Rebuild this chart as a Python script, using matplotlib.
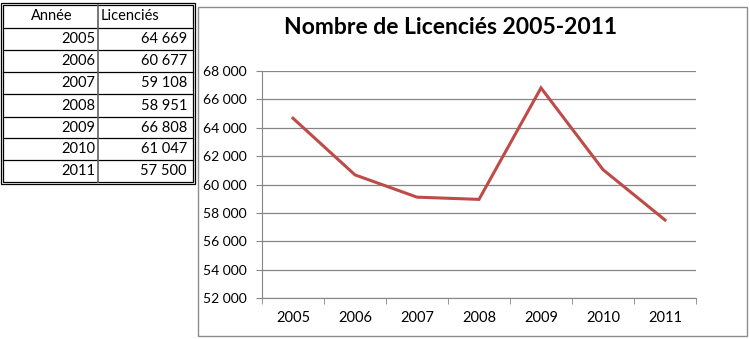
import numpy as np
import matplotlib.pyplot as plt
from matplotlib.ticker import FuncFormatter, MultipleLocator
from matplotlib.patches import Rectangle
from matplotlib.lines import Line2D

# données
annees = ["2005", "2006", "2007", "2008", "2009", "2010", "2011"]
licencies = [64669, 60677, 59108, 58951, 66808, 61047, 57500]
entetes = ["Année", "Licenciés"]

plt.rcParams["font.family"] = ["Lato", "DejaVu Sans"]

W, H = 750, 339
fig = plt.figure(figsize=(W / 100, H / 100), dpi=100)


def fx(px):
    return px / W


def fy(py):
    return 1 - py / H


def milliers(v, pos=None):
    return format(int(v), ",").replace(",", " ")


# --- tableau à gauche ---
tab_l, tab_r, tab_mid = 3, 193, 98
lignes_y = [5, 28, 50, 72, 94, 117, 138, 160, 182]
fs_tab = 10.5

for y in lignes_y[1:-1]:
    fig.add_artist(Line2D([fx(tab_l), fx(tab_r)], [fy(y), fy(y)], color="black", lw=0.9))
fig.add_artist(Line2D([fx(tab_mid), fx(tab_mid)], [fy(lignes_y[0]), fy(lignes_y[-1])],
                      color="#606060", lw=1.2))
# double bordure
for d in (0, 2):
    fig.add_artist(Rectangle((fx(tab_l - d), fy(lignes_y[-1] + d)),
                             fx(tab_r - tab_l + 2 * d),
                             (lignes_y[-1] - lignes_y[0] + 2 * d) / H,
                             fill=False, ec="black", lw=0.9))

fig.text(fx(52), fy((lignes_y[0] + lignes_y[1]) / 2), entetes[0],
         ha="center", va="center", fontsize=fs_tab)
fig.text(fx(101), fy((lignes_y[0] + lignes_y[1]) / 2), entetes[1],
         ha="left", va="center", fontsize=fs_tab)
for i, (a, v) in enumerate(zip(annees, licencies)):
    yc = (lignes_y[i + 1] + lignes_y[i + 2]) / 2
    fig.text(fx(95), fy(yc), a, ha="right", va="center", fontsize=fs_tab)
    fig.text(fx(187), fy(yc), milliers(v), ha="right", va="center", fontsize=fs_tab)

# --- cadre du graphique ---
fig.add_artist(Rectangle((fx(198), fy(336)), fx(747 - 198), (336 - 7) / H,
                         fill=False, ec="#8c8c8c", lw=1.0))
fig.text(fx(450), fy(28), "Nombre de Licenciés 2005-2011", ha="center", va="center",
         fontsize=16.5, fontweight="bold")

# --- courbe ---
ax = fig.add_axes([fx(262), fy(298), fx(696 - 262), (298 - 71) / H])
x = np.arange(len(annees))
ax.plot(x, licencies, color="#BE4B48", lw=2.2, solid_joinstyle="miter")

ax.set_xlim(-0.5, len(annees) - 0.5)
ax.set_ylim(52000, 68000)
ax.yaxis.set_major_locator(MultipleLocator(2000))
ax.yaxis.set_major_formatter(FuncFormatter(milliers))
ax.set_xticks(x)
ax.set_xticklabels(annees)
ax.set_xticks(np.arange(-0.5, len(annees)), minor=True)
ax.tick_params(axis="x", which="major", length=0, pad=9, labelsize=10.5)
ax.tick_params(axis="x", which="minor", length=4, color="#868686", direction="out")
ax.tick_params(axis="y", length=4, color="#868686", labelsize=10, pad=7)

ax.grid(axis="y", color="#868686", lw=0.9)
ax.set_axisbelow(True)
for s in ("top", "right"):
    ax.spines[s].set_visible(False)
ax.spines["left"].set_color("#868686")
ax.spines["bottom"].set_color("#868686")

fig.savefig("out.png", dpi=100)
